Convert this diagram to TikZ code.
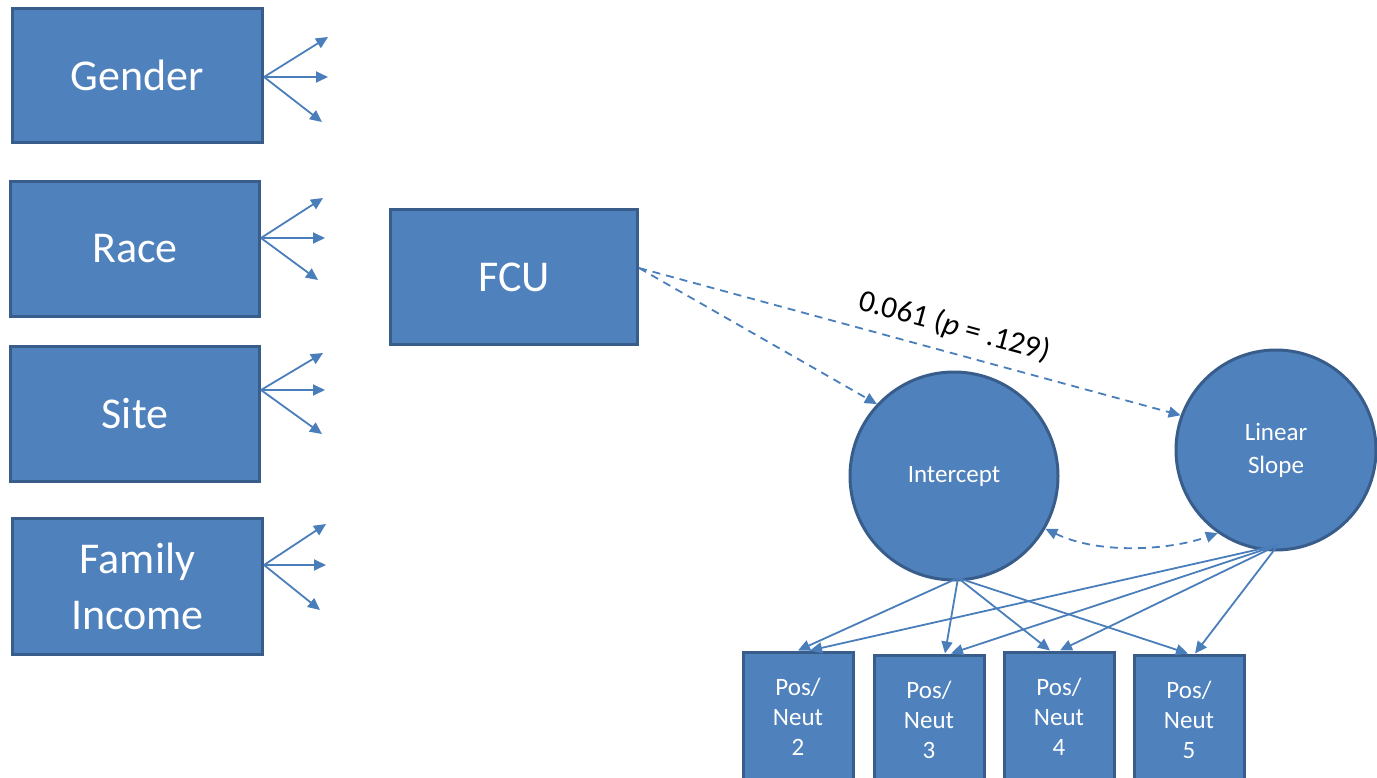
\documentclass[tikz,border=0pt]{standalone}
\usepackage{fontspec}
\setmainfont{Carlito}
\usetikzlibrary{arrows.meta}
\definecolor{boxfill}{HTML}{4F81BD}
\definecolor{boxline}{HTML}{385D8A}
\definecolor{arr}{HTML}{4A7EBB}
\begin{document}
\begin{tikzpicture}[x=1pt,y=-1pt,
  bigbox/.style={draw=boxline,line width=3pt,fill=boxfill,text=white,font=\fontsize{44}{50}\selectfont,align=center,inner sep=0pt},
  smallbox/.style={draw=boxline,line width=3pt,fill=boxfill,text=white,font=\fontsize{25}{30}\selectfont,align=center,inner sep=0pt,minimum width=110pt,minimum height=130pt},
  latent/.style={circle,draw=boxline,line width=3pt,fill=boxfill,text=white,font=\fontsize{25}{33}\selectfont,align=center,inner sep=0pt},
  arw/.style={draw=arr,line width=1.8pt,-{Triangle[length=12pt,width=11pt]}},
  darw/.style={arw,dashed,dash pattern=on 8pt off 6pt}]
\useasboundingbox (0,0) rectangle (1377,778);
% left boxes
\node[bigbox,minimum width=250pt,minimum height=134pt] (gender) at (137.5,75.5) {Gender};
\node[bigbox,minimum width=249pt,minimum height=135pt] (race) at (135,249) {Race};
\node[bigbox,minimum width=249pt,minimum height=135pt] (site) at (135,414) {Site};
\node[bigbox,minimum width=250pt,minimum height=136pt] (income) at (137.5,586.5) {Family\\[6pt]Income};
\node[bigbox,minimum width=247pt,minimum height=135pt] (fcu) at (514,277) {FCU};
% arrow origins on the right edges (yshift is in page direction: + is up)
\coordinate (go) at ([yshift=-1.5pt]gender.east);
\coordinate (ro) at ([yshift=11pt]race.east);
\coordinate (so0) at ([yshift=24pt]site.east);
\coordinate (fo) at ([yshift=21.5pt]income.east);
% free ends
\coordinate (g1) at (328,37); \coordinate (g2) at (328,77); \coordinate (g3) at (322,122);
\coordinate (r1) at (323,198); \coordinate (r2) at (325,238); \coordinate (r3) at (318,280);
\coordinate (s1) at (323,353); \coordinate (s2) at (325,390); \coordinate (s3) at (322,434);
\coordinate (f1) at (326,524); \coordinate (f2) at (326,565); \coordinate (f3) at (320,610);
\foreach \n in {1,2,3}{
  \draw[arw] (go) -- (g\n);
  \draw[arw] (ro) -- (r\n);
  \draw[arw] (so0) -- (s\n);
  \draw[arw] (fo) -- (f\n);
}
% latent
\node[latent,minimum size=208pt] (int) at (954,476) {Intercept};
\node[latent,minimum size=200pt] (slope) at (1276,450) {Linear\\Slope};
% observed
\node[smallbox] (p2) at (798,717) {Pos/\\Neut\\2};
\node[smallbox] (p3) at (929,720) {Pos/\\Neut\\3};
\node[smallbox] (p4) at (1059,717) {Pos/\\Neut\\4};
\node[smallbox] (p5) at (1189,720) {Pos/\\Neut\\5};
% FCU paths
\coordinate (fcuo) at ([yshift=9pt]fcu.east);
\draw[darw] (fcuo) -- (int.137);
\draw[darw] (fcuo) -- node[pos=0.57,sloped,above=8pt,text=black,font=\fontsize{31}{35}\selectfont]{0.061 (\textit{p} = .129)} (slope.160);
% covariance
\draw[darw,{Triangle[length=12pt,width=11pt]}-{Triangle[length=12pt,width=11pt]}] (int.-30) .. controls (1100,555) and (1170,550) .. (slope.-125);
% loadings
\coordinate (io) at (958,578);
\coordinate (lo) at (1278,545);
\draw[arw] (io) -- (p2.north);
\draw[arw] (io) -- ([xshift=16pt]p3.north);
\draw[arw] (io) -- ([xshift=-9pt]p4.north);
\draw[arw] (io) -- ([xshift=-1pt]p5.north);
\draw[arw] (lo) -- ([xshift=12pt]p2.north);
\draw[arw] (lo) -- ([xshift=22pt]p3.north);
\draw[arw] (lo) -- ([xshift=1pt]p4.north);
\draw[arw] (lo) -- ([xshift=6pt]p5.north);
\end{tikzpicture}
\end{document}
